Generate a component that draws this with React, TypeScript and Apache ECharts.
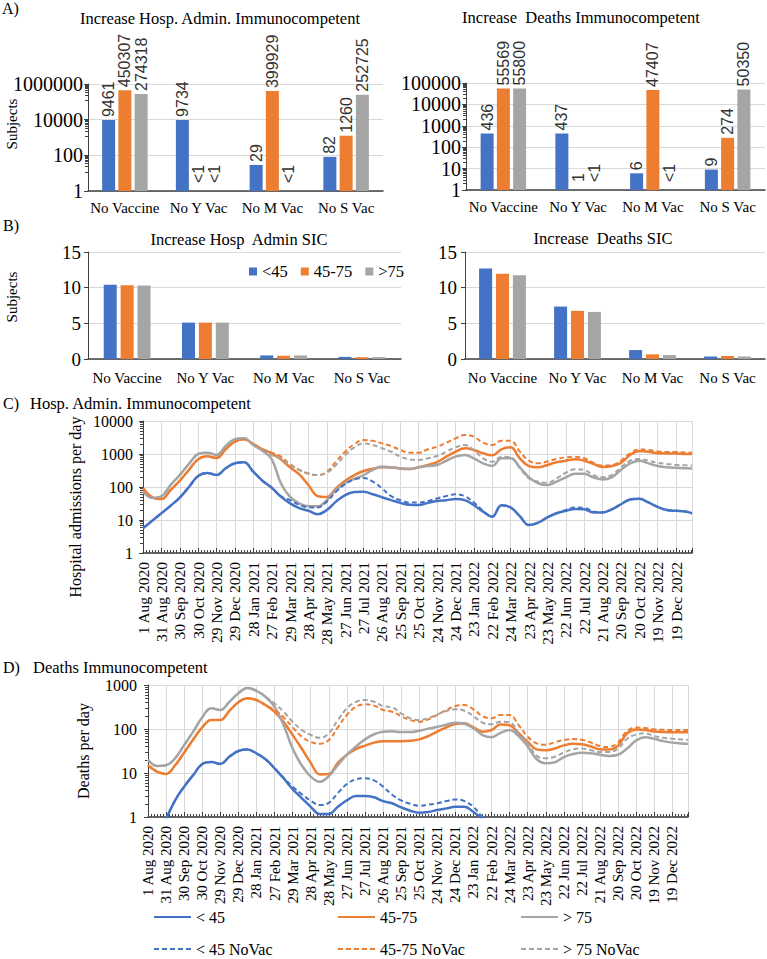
import React, { useEffect, useRef } from 'react';
import * as echarts from 'echarts';

// ---------- Panels A / B: scenario bars ----------
const scenarios = ['No Vaccine', 'No Y Vac', 'No M Vac', 'No S Vac'];
const ageGroups = ['<45', '45-75', '>75'];

// Increase in hospital admissions / deaths, immunocompetent (null = "<1")
const hospIncUnder45 = [9461, 9734, 29, 82];
const hospInc45to75 = [450307, null, 399929, 1260];
const hospIncOver75 = [274318, null, null, 252725];
const deathIncUnder45 = [436, 437, 6, 9];
const deathInc45to75 = [55569, 1, 47407, 274];
const deathIncOver75 = [55800, null, null, 50350];

// Increase for severely immunocompromised (SIC)
const sicHospUnder45 = [10.4, 5.1, 0.5, 0.3];
const sicHosp45to75 = [10.35, 5.1, 0.45, 0.25];
const sicHospOver75 = [10.3, 5.1, 0.5, 0.27];
const sicDeathUnder45 = [12.7, 7.35, 1.25, 0.35];
const sicDeath45to75 = [11.95, 6.75, 0.65, 0.42];
const sicDeathOver75 = [11.75, 6.6, 0.55, 0.35];

// ---------- Panels C / D: daily time series ----------
// days since 1 Aug 2020
const dayOffsets = [
  0, 15, 30, 45, 60, 75, 90, 105, 120, 135, 150, 165, 180, 195, 210, 225, 240, 255, 270, 285,
  300, 315, 330, 345, 360, 375, 390, 405, 420, 435, 450, 465, 480, 495, 510, 525, 540, 555, 570, 585,
  600, 615, 630, 645, 660, 675, 690, 705, 720, 735, 750, 765, 780, 795, 810, 825, 840, 855, 870, 885, 896,
];
const dayTickLabels = [
  '1 Aug 2020', '31 Aug 2020', '30 Sep 2020', '30 Oct 2020', '29 Nov 2020', '29 Dec 2020',
  '28 Jan 2021', '27 Feb 2021', '29 Mar 2021', '28 Apr 2021', '28 May 2021', '27 Jun 2021',
  '27 Jul 2021', '26 Aug 2021', '25 Sep 2021', '25 Oct 2021', '24 Nov 2021', '24 Dec 2021',
  '23 Jan 2022', '22 Feb 2022', '24 Mar 2022', '23 Apr 2022', '23 May 2022', '22 Jun 2022',
  '22 Jul 2022', '21 Aug 2022', '20 Sep 2022', '20 Oct 2022', '19 Nov 2022', '19 Dec 2022',
];

// Hospital admissions per day
const hospUnder45 = [5.6, 9.5, 16, 27, 48, 100, 215, 265, 232, 370, 525, 560, 290, 155, 95, 51, 32, 23, 19, 15, 20, 36, 57, 70, 72, 60, 49, 40, 33, 29, 28.5, 33, 37.6, 40, 43, 40, 28, 18, 12.6, 28, 24, 13, 7, 8.3, 12, 16, 19, 21.5, 21, 17, 17, 21, 30, 42, 44, 34, 25, 20, 19, 18, 16];
const hospUnder45NoVac = [5.6, 9.5, 16, 27, 48, 100, 215, 265, 232, 370, 525, 560, 290, 155, 96, 53, 40, 28.5, 24.5, 24, 36, 72, 123, 170, 186, 145, 91, 53, 40, 34, 34, 38, 45, 53, 60, 53, 34, 19, 12.6, 28, 24, 13, 7, 8.3, 12, 16, 20, 24, 23.5, 18, 17, 21, 30, 42, 44, 34, 25, 20, 19, 18, 16];
const hosp45to75 = [91, 49, 43, 81, 155, 330, 690, 850, 750, 1390, 2350, 2800, 2000, 1390, 1050, 690, 395, 240, 115, 53, 50, 91, 155, 230, 305, 357, 395, 390, 360, 350, 395, 465, 570, 830, 1170, 1490, 1320, 1050, 910, 1390, 1590, 740, 430, 395, 465, 560, 625, 690, 625, 500, 405, 430, 540, 930, 1230, 1170, 1050, 1040, 1040, 1000, 1000];
const hosp45to75NoVac = [91, 49, 43, 81, 155, 330, 690, 850, 750, 1390, 2350, 2800, 2000, 1390, 1100, 830, 500, 330, 250, 230, 290, 585, 1175, 2000, 2640, 2500, 2100, 1750, 1320, 1090, 1090, 1390, 1660, 2200, 2970, 3780, 3340, 2200, 1880, 2520, 2520, 1175, 625, 520, 590, 705, 790, 830, 740, 540, 445, 460, 625, 1050, 1390, 1320, 1200, 1150, 1150, 1120, 1100];
const hospOver75 = [72, 47, 52, 115, 230, 500, 1000, 1100, 930, 1750, 2800, 3000, 1880, 1260, 700, 130, 50, 32, 26, 26, 40, 81, 130, 178, 230, 330, 420, 395, 370, 350, 395, 435, 465, 625, 830, 930, 740, 520, 435, 740, 740, 395, 196, 130, 115, 145, 196, 250, 250, 196, 170, 196, 330, 520, 625, 520, 435, 395, 380, 370, 365];
const hospOver75NoVac = [72, 47, 52, 115, 230, 500, 1000, 1100, 930, 1750, 2800, 3000, 1880, 1260, 930, 740, 465, 330, 260, 230, 270, 465, 930, 1590, 2100, 1880, 1490, 1170, 830, 690, 660, 740, 870, 1170, 1590, 1880, 1320, 740, 585, 830, 790, 370, 183, 145, 135, 183, 270, 345, 330, 230, 196, 230, 395, 625, 705, 625, 540, 500, 465, 455, 450];

// Deaths per day (null = below 1)
const deathUnder45 = [null, null, 0.9, 2.4, 4.9, 9, 16, 17.8, 16, 23.5, 31.6, 34, 28, 20.5, 12.8, 7.6, 4.3, 2.7, 1.7, 1.17, 1.17, 1.7, 2.4, 3.0, 3.0, 2.8, 2.3, 2.05, 1.66, 1.39, 1.25, 1.3, 1.44, 1.57, 1.7, 1.7, 1.3, 0.9, null, null, null, null, null, null, null, null, null, null, null, null, null, null, null, null, null, null, null, null, null, null, null];
const deathUnder45NoVac = [null, null, 0.9, 2.4, 4.9, 9, 16, 17.8, 16, 23.5, 31.6, 34, 28, 20.5, 12.8, 7.8, 4.9, 3.3, 2.35, 1.87, 2.1, 3.5, 5.6, 7.2, 7.6, 6.8, 4.9, 3.2, 2.4, 2.0, 1.8, 1.9, 2.05, 2.3, 2.5, 2.3, 1.7, 1.0, 0.7, null, null, null, null, null, null, null, null, null, null, null, null, null, null, null, null, null, null, null, null, null, null];
const death45to75 = [15, 10.7, 9.5, 15, 29, 58, 109, 160, 160, 257, 405, 500, 455, 350, 247, 146, 73, 36, 17, 9.3, 9.5, 17, 26, 35, 42, 49, 53, 53, 53, 54, 58, 69, 87, 109, 130, 135, 109, 87, 95, 127, 122, 80, 51, 34.5, 33, 36, 42.5, 46, 45, 40, 34.5, 34, 42, 80, 98, 95, 88, 85, 84, 84, 84];
const death45to75NoVac = [15, 10.7, 9.5, 15, 29, 58, 109, 160, 160, 257, 405, 500, 455, 350, 270, 185, 109, 67, 51, 46, 56, 109, 208, 320, 363, 340, 270, 247, 196, 160, 146, 166, 209, 270, 333, 350, 280, 196, 175, 209, 209, 123, 67, 47, 44, 50, 56, 59, 57, 49, 41, 39, 50, 90, 108, 105, 98, 96, 95, 95, 94];
const deathOver75 = [20, 14.4, 15, 21.6, 43, 87, 185, 295, 270, 415, 650, 850, 740, 540, 320, 123, 36, 15, 8.3, 6.3, 8.5, 15, 26, 40, 58, 76, 87, 89, 85, 85, 91, 102, 112, 125, 139, 132, 104, 73, 65, 82, 95, 69, 40, 20.5, 16.6, 17.5, 23, 27, 29, 28, 26, 24.5, 26, 36, 55, 65, 60, 53, 49, 47, 46];
const deathOver75NoVac = [20, 14.4, 15, 21.6, 43, 87, 185, 295, 270, 415, 650, 850, 740, 540, 380, 247, 146, 95, 73, 63, 80, 160, 295, 415, 455, 415, 330, 310, 228, 176, 160, 178, 215, 257, 280, 260, 196, 139, 128, 146, 141, 82, 47, 24.5, 21.6, 23.5, 29, 34.5, 36, 33, 30, 30, 36, 60, 75, 80, 69, 63, 60, 58, 57];

const lineNames = ['< 45', '45-75 ', '> 75', '< 45 NoVac', '45-75 NoVac', '> 75 NoVac'];

const BLUE = '#4472C4';
const ORANGE = '#ED7D31';
const GRAY = '#A5A5A5';
const SERIF = '"Liberation Serif", "Times New Roman", serif';
const SANS = '"Liberation Sans", Arial, sans-serif';
const AXIS = '#404040';
const GRID = '#D9D9D9';

const logLabel = (v: number) => String(Math.round(v));

function barData(values: (number | null)[]) {
  return values.map((v) => {
    if (v === null) return { value: 1, label: { formatter: '<1', distance: 8 } };
    if (v <= 1) return { value: v, label: { distance: 8 } };
    return v;
  });
}

function barSeries(name: string, values: (number | null)[], color: string, idx: number, labelled: boolean, gap: string) {
  return {
    type: 'bar',
    name,
    xAxisIndex: idx,
    yAxisIndex: idx,
    barWidth: 13,
    barGap: gap,
    itemStyle: { color },
    data: labelled ? barData(values) : values,
    label: labelled
      ? {
          show: true,
          position: 'top',
          rotate: 90,
          align: 'left',
          verticalAlign: 'middle',
          distance: 3,
          fontSize: 16,
          fontFamily: SANS,
          color: '#333',
          formatter: (p: any) => String(p.value),
        }
      : { show: false },
  };
}

function lineSeries(name: string, values: (number | null)[], color: string, dashed: boolean, idx: number) {
  return {
    type: 'line',
    name,
    xAxisIndex: idx,
    yAxisIndex: idx,
    data: dayOffsets.map((d, i) => [d, values[i]]),
    symbol: 'none',
    showSymbol: false,
    smooth: 0.4,
    clip: true,
    z: dashed ? 4 : 3,
    itemStyle: { color },
    lineStyle: { color, width: dashed ? 2 : 2.5, type: dashed ? [5, 3] : 'solid' },
  };
}

function catAxis(gridIndex: number, margin: number) {
  return {
    type: 'category',
    gridIndex,
    data: scenarios,
    axisLine: { show: true, lineStyle: { color: AXIS, width: 1.5 } },
    axisTick: { show: false },
    splitLine: { show: false },
    axisLabel: { interval: 0, fontSize: 15, fontFamily: SERIF, color: '#000', margin },
  };
}

function logAxis(gridIndex: number, base: number, max: number, size: number, margin: number) {
  return {
    type: 'log',
    gridIndex,
    logBase: base,
    min: 1,
    max,
    axisLine: { show: true, lineStyle: { color: AXIS, width: 1 } },
    axisTick: { show: true, length: 4, lineStyle: { color: AXIS } },
    minorTick: { show: true, splitNumber: 9, length: 3, lineStyle: { color: AXIS } },
    splitLine: { show: true, lineStyle: { color: GRID, width: 1 } },
    minorSplitLine: { show: false },
    axisLabel: { formatter: logLabel, fontSize: size, fontFamily: SERIF, color: '#000', margin },
  };
}

function linearAxis(gridIndex: number, margin: number) {
  return {
    type: 'value',
    gridIndex,
    min: 0,
    max: 15,
    interval: 5,
    axisLine: { show: true, lineStyle: { color: AXIS, width: 1 } },
    axisTick: { show: true, length: 4, lineStyle: { color: AXIS } },
    splitLine: { show: true, lineStyle: { color: GRID, width: 1 } },
    axisLabel: { fontSize: 19, fontFamily: SERIF, color: '#000', margin },
  };
}

function dayAxis(gridIndex: number, size: number) {
  return {
    type: 'value',
    gridIndex,
    min: 0,
    max: 896,
    interval: 30,
    axisLine: { show: true, onZero: false, lineStyle: { color: AXIS, width: 1.5 } },
    axisTick: { show: true, inside: true, length: 5, lineStyle: { color: AXIS } },
    minorTick: { show: true, splitNumber: 6, length: 3, lineStyle: { color: AXIS } },
    splitLine: { show: true, lineStyle: { color: GRID, width: 1 } },
    axisLabel: {
      rotate: 90,
      margin: 9,
      fontSize: size,
      fontFamily: SERIF,
      color: '#000',
      showMaxLabel: false,
      formatter: (v: number) => (v % 30 === 0 ? dayTickLabels[Math.round(v / 30)] ?? '' : ''),
    },
  };
}

function text(t: string, x: number, y: number, opts: { size?: number; align?: string; rot?: number } = {}) {
  return {
    type: 'text',
    x,
    y,
    rotation: opts.rot ?? 0,
    silent: true,
    style: {
      text: t,
      fontSize: opts.size ?? 16.5,
      fontFamily: SERIF,
      fill: '#000',
      align: opts.align ?? 'left',
      verticalAlign: 'middle',
    },
  };
}

// one legend entry per line series: just the stroke, no marker
function lineLegend(name: string, left: number, top: number) {
  return {
    data: [name],
    left,
    top,
    padding: 0,
    itemWidth: 37,
    itemHeight: 14,
    itemStyle: { opacity: 0 },
    textStyle: { fontSize: 16, fontFamily: SERIF, color: '#000' },
  };
}

export default function App() {
  const ref = useRef<HTMLDivElement>(null);

  useEffect(() => {
    if (!ref.current) return;
    const chart = echarts.init(ref.current, undefined, { renderer: 'svg' });

    const grids = [
      { left: 88, top: 84, width: 295, height: 107 },
      { left: 466, top: 83, width: 299, height: 107 },
      { left: 88, top: 252, width: 313, height: 107 },
      { left: 465, top: 252, width: 300, height: 107 },
      { left: 143, top: 421, width: 549, height: 132 },
      { left: 148, top: 685, width: 540, height: 132 },
    ].map((g) => ({ ...g, containLabel: false, outerBoundsMode: 'none' }));

    const hospLines = [hospUnder45, hosp45to75, hospOver75, hospUnder45NoVac, hosp45to75NoVac, hospOver75NoVac];
    const deathLines = [deathUnder45, death45to75, deathOver75, deathUnder45NoVac, death45to75NoVac, deathOver75NoVac];
    const lineColors = [BLUE, ORANGE, GRAY, BLUE, ORANGE, GRAY];

    const series: any[] = [];
    lineNames.forEach((n, i) => series.push(lineSeries(n, hospLines[i], lineColors[i], i >= 3, 4)));
    lineNames.forEach((n, i) => series.push(lineSeries(n, deathLines[i], lineColors[i], i >= 3, 5)));

    const barColors = [BLUE, ORANGE, GRAY];
    [hospIncUnder45, hospInc45to75, hospIncOver75].forEach((v, i) =>
      series.push(barSeries(ageGroups[i], v, barColors[i], 0, true, '25%'))
    );
    [deathIncUnder45, deathInc45to75, deathIncOver75].forEach((v, i) =>
      series.push(barSeries(ageGroups[i], v, barColors[i], 1, true, '25%'))
    );
    [sicHospUnder45, sicHosp45to75, sicHospOver75].forEach((v, i) =>
      series.push(barSeries(ageGroups[i], v, barColors[i], 2, false, '30%'))
    );
    [sicDeathUnder45, sicDeath45to75, sicDeathOver75].forEach((v, i) =>
      series.push(barSeries(ageGroups[i], v, barColors[i], 3, false, '30%'))
    );

    chart.setOption({
      animation: false,
      backgroundColor: '#fff',
      textStyle: { fontFamily: SERIF },
      grid: grids,
      xAxis: [catAxis(0, 9), catAxis(1, 9), catAxis(2, 11), catAxis(3, 11), dayAxis(4, 15.5), dayAxis(5, 15)],
      yAxis: [
        logAxis(0, 100, 1000000, 20, 5),
        logAxis(1, 10, 100000, 20, 5),
        linearAxis(2, 7),
        linearAxis(3, 8),
        logAxis(4, 10, 10000, 16, 10),
        logAxis(5, 10, 1000, 16, 11),
      ],
      legend: [
        {
          data: ageGroups,
          left: 249,
          top: 263,
          padding: 0,
          icon: 'rect',
          itemWidth: 8,
          itemHeight: 8,
          itemGap: 13,
          textStyle: { fontSize: 16.5, fontFamily: SERIF, color: '#000' },
        },
        lineLegend(lineNames[0], 153, 909),
        lineLegend(lineNames[1], 337, 909),
        lineLegend(lineNames[2], 520, 909),
        lineLegend(lineNames[3], 153, 941),
        lineLegend(lineNames[4], 337, 941),
        lineLegend(lineNames[5], 520, 941),
      ],
      graphic: [
        text('A)', 2, 8, { size: 16 }),
        text('Increase Hosp. Admin. Immunocompetent', 220, 18, { align: 'center' }),
        text('Increase  Deaths Immunocompetent', 581, 17, { align: 'center' }),
        text('Subjects', 12, 124, { align: 'center', rot: Math.PI / 2, size: 15 }),
        text('B)', 3, 225, { size: 16 }),
        text('Increase Hosp  Admin SIC', 239, 239, { align: 'center' }),
        text('Increase  Deaths SIC', 603, 238, { align: 'center' }),
        text('Subjects', 12, 297, { align: 'center', rot: Math.PI / 2, size: 15 }),
        text('C)', 3, 403, { size: 16 }),
        text('Hosp. Admin. Immunocompetent', 30, 403),
        text('Hospital admissions per day', 75, 507, { align: 'center', rot: Math.PI / 2, size: 16 }),
        text('D)', 3, 667, { size: 16 }),
        text('Deaths Immunocompetent', 33, 667),
        text('Deaths per day', 83, 751, { align: 'center', rot: Math.PI / 2, size: 16 }),
      ],
      series,
    });

    return () => chart.dispose();
  }, []);

  return <div ref={ref} style={{ position: 'absolute', left: 0, top: 0, width: 767, height: 959 }} />;
}
